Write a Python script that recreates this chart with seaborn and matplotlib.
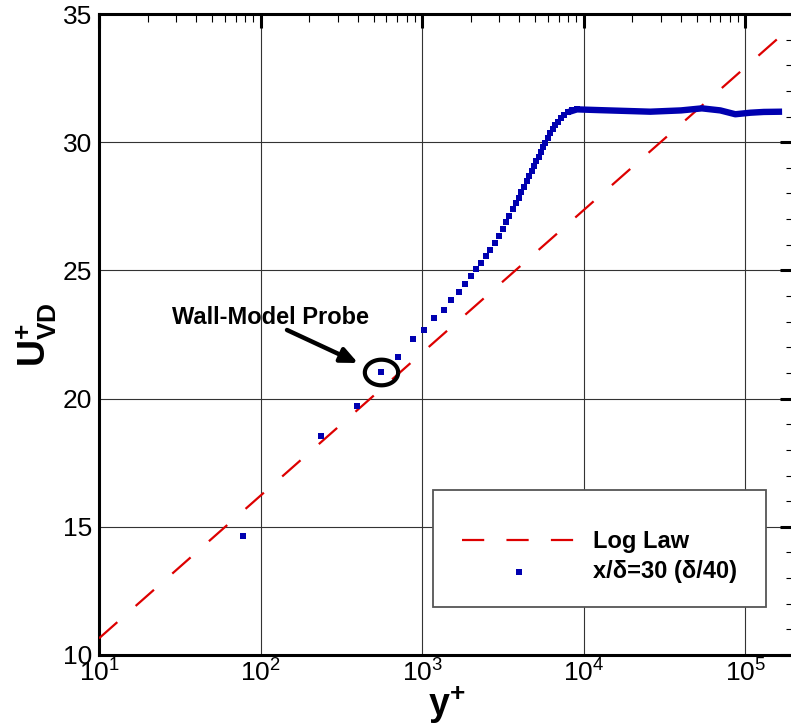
import numpy as np
import pandas as pd
import matplotlib
matplotlib.use("Agg")
import matplotlib.pyplot as plt
import seaborn as sns
from matplotlib.patches import Rectangle
from matplotlib.path import Path
from matplotlib.ticker import LogLocator, MultipleLocator, NullFormatter

# ---------------- data ----------------
loglaw_yplus = [10.0, 2.0e5]
loglaw_u = [10.65, 34.6]

# discrete profile points (x/delta = 30)
pts_yplus = [78, 237, 393, 554, 713, 874, 1033, 1187, 1363, 1512, 1688, 1828,
             1991, 2160, 2320, 2466, 2637, 2804, 2968, 3142, 3299, 3457, 3624,
             3782, 3948, 4102, 4263, 4450, 4598, 4752, 4917, 5080, 5250, 5433,
             5614, 5776, 5970, 6204, 6410, 6662, 6921, 7224, 7574, 7985, 8455,
             9078]
pts_u = [14.64, 18.54, 19.71, 21.04, 21.63, 22.31, 22.66, 23.14, 23.44, 23.86,
         24.15, 24.48, 24.77, 25.05, 25.29, 25.55, 25.80, 26.07, 26.34, 26.60,
         26.88, 27.13, 27.39, 27.62, 27.84, 28.06, 28.26, 28.48, 28.68, 28.89,
         29.07, 29.26, 29.43, 29.62, 29.80, 29.98, 30.16, 30.35, 30.50, 30.67,
         30.80, 30.93, 31.06, 31.17, 31.24, 31.28]

# dense outer part (markers merge into a continuous band)
dense_yplus = [7985, 9078, 12650, 25800, 40000, 53800, 70000, 86700, 107400,
               130000, 168800]
dense_u = [31.17, 31.28, 31.25, 31.19, 31.24, 31.32, 31.24, 31.09, 31.15,
           31.18, 31.19]

probe_yplus = 554
probe_u = 21.04

legend_labels = ["Log Law", "x/\u03b4=30 (\u03b4/40)"]
annot_text = "Wall-Model Probe"

# ---------------- style ----------------
sns.set_style("white")
plt.rcParams["font.family"] = ["Liberation Sans", "DejaVu Sans"]
plt.rcParams["mathtext.fontset"] = "custom"
plt.rcParams["mathtext.rm"] = "Liberation Sans"
plt.rcParams["mathtext.it"] = "Liberation Sans:italic"
plt.rcParams["mathtext.bf"] = "Liberation Sans:bold"
for k in ["text.color", "axes.labelcolor", "xtick.color", "ytick.color",
          "axes.edgecolor"]:
    plt.rcParams[k] = "black"

RED = "#dd0000"
BLUE = "#0000b0"

fig = plt.figure(figsize=(7.91, 7.26), dpi=100)
ax = fig.add_axes([99 / 791, 1 - 655 / 726, (794 - 99) / 791, (655 - 14) / 726])

df_log = pd.DataFrame({"yplus": loglaw_yplus, "u": loglaw_u})
df_pts = pd.DataFrame({"yplus": pts_yplus, "u": pts_u})
df_dense = pd.DataFrame({"yplus": dense_yplus, "u": dense_u})

sns.lineplot(data=df_log, x="yplus", y="u", ax=ax, color=RED, lw=1.6,
             dashes=False, estimator=None, sort=False, zorder=3,
             label=legend_labels[0])
ax.lines[-1].set_dashes([11, 11])
sns.lineplot(data=df_dense, x="yplus", y="u", ax=ax, color=BLUE, lw=4.6,
             estimator=None, sort=False, zorder=3, solid_capstyle="butt")
sns.scatterplot(data=df_pts, x="yplus", y="u", ax=ax, color=BLUE, marker="s",
                s=14, linewidth=0, zorder=4, label=legend_labels[1])

ax.set_xscale("log")
ax.set_xlim(10, 2.0e5)
ax.set_ylim(10, 35)

# ticks
ax.xaxis.set_major_locator(LogLocator(base=10, numticks=10))
ax.xaxis.set_minor_locator(LogLocator(base=10, subs=np.arange(2, 10), numticks=20))
ax.xaxis.set_minor_formatter(NullFormatter())
ax.yaxis.set_major_locator(MultipleLocator(5))
ax.yaxis.set_minor_locator(MultipleLocator(1))
ax.tick_params(which="major", direction="in", length=10, width=2.2,
               top=True, right=True, labelsize=19, colors="black")
ax.tick_params(axis="x", which="major", pad=3)
ax.tick_params(axis="y", which="major", pad=5)
ax.tick_params(which="minor", direction="in", length=6, width=0.8,
               top=True, right=True, colors="black")
for s in ax.spines.values():
    s.set_linewidth(2.2)
    s.set_color("black")

ax.grid(True, which="major", color="#333333", lw=0.8)
ax.set_axisbelow(True)

ax.set_xlabel(r"$\mathbf{y^{+}}$", fontsize=27, labelpad=-2)
ax.set_ylabel(r"$\mathbf{U^{+}_{VD}}$", fontsize=27, labelpad=3)

# probe marker: ellipse
theta = np.linspace(0, 2 * np.pi, 60)
ell = Path(np.column_stack([1.3 * np.cos(theta), np.sin(theta)]))
ax.plot([probe_yplus], [probe_u], marker=ell, markersize=24, mfc="none",
        mec="black", mew=3.0, zorder=5, ls="none")

ax.annotate("", xy=(358, 726 - 363), xycoords="figure pixels",
            xytext=(287, 726 - 330), textcoords="figure pixels",
            arrowprops=dict(arrowstyle="-|>,head_length=1.0,head_width=0.45",
                            color="black", lw=3.2, shrinkA=0, shrinkB=0))
fig.text(172 / 791, 1 - 317 / 726, annot_text, fontsize=17, fontweight="bold",
         ha="left", va="center")

# legend with a square frame
frame = Rectangle((433 / 791, 1 - 607 / 726), (766 - 433) / 791, (607 - 490) / 726,
                  transform=fig.transFigure, facecolor="white",
                  edgecolor="#555555", lw=1.3, zorder=6)
fig.patches.append(frame)
leg = ax.legend(loc="upper left", bbox_to_anchor=(462 / 791, 1 - 530 / 726),
                bbox_transform=fig.transFigure, frameon=False,
                prop={"weight": "bold", "size": 17}, handlelength=4.8,
                handletextpad=0.75, labelspacing=0.3, borderpad=0,
                borderaxespad=0, markerscale=1.0)
leg.set_zorder(7)
for h in leg.legend_handles:
    try:
        h.set_dashes([10, 10])
    except Exception:
        pass
for t in leg.get_texts():
    t.set_color("black")
legend_fig = leg
ax.legend_ = None
fig.legends.append(legend_fig)
legend_fig.set_figure(fig)

fig.savefig("out.png", dpi=100)
